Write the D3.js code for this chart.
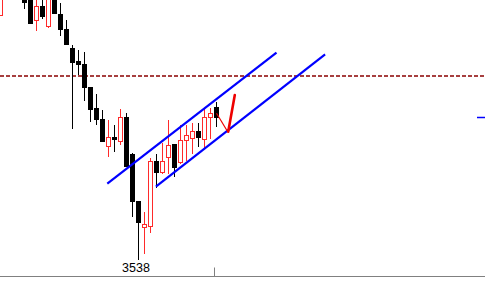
<!DOCTYPE html>
<html><head><meta charset="utf-8">
<script src="https://cdn.jsdelivr.net/npm/d3@7/dist/d3.min.js"></script>
<style>html,body{margin:0;padding:0;background:#fff;overflow:hidden}svg{display:block}</style>
</head><body>
<script>
// ---- data ----
const idx   = [0,4,5,6,7,8,9,10,11,12,13,14,15,16,17,18,19,20,21,22,23,24,25,26,27,28,29,30,31,32,33,34,35,36];
const open  = [3782,3802,3800,3777,3791,3771,3799,3783,3768,3749,3736,3733,3710,3689,3678,3651,3660,3656,3680,3643,3596,3570,3571,3636,3625,3640,3653,3635,3657,3659,3666,3658,3680,3690];
const high  = [3812,3805,3803,3799,3798,3802,3801,3794,3777,3752,3747,3745,3710,3703,3687,3677,3672,3688,3684,3644,3596,3585,3639,3643,3654,3677,3653,3672,3672,3674,3674,3689,3689,3695];
const low   = [3782,3789,3774,3767,3779,3770,3784,3762,3753,3669,3723,3697,3676,3673,3656,3641,3646,3653,3631,3581,3538,3544,3565,3610,3624,3624,3621,3634,3637,3644,3651,3649,3659,3671];
const close = [3807,3795,3774,3791,3781,3800,3784,3768,3753,3735,3733,3710,3688,3678,3656,3660,3658,3680,3631,3596,3575,3573,3636,3625,3636,3652,3630,3657,3662,3666,3660,3680,3684,3680];
const refLevel = 3721;           // dashed reference level
const lowLabel = "3538";         // labelled low
const lowIndex = 23;
const upperChannel = [[17.8,3613.3],[46.0,3744.3]];
const lowerChannel = [[25.9,3610.3],[54.1,3742.7]];
const sketchThin  = [[36.0,3683.7],[37.87,3665.3]];
const sketchThick = [[37.95,3665.3],[39.05,3702.0]];
const axisTicks = [35.5];

// ---- layout ----
const W = 485, H = 297, axisY = 276;
const svg = d3.select("body").append("svg").attr("width", W).attr("height", H);
const x = d3.scaleLinear().domain([-1/12, 80.75]).range([0, W]);
const y = d3.scaleLinear().domain([3538, 3797]).range([259, 0]);
const RED = "#ff2a2a";

const plot = svg.append("g");
plot.append("clipPath").attr("id","clip").append("rect").attr("x",0).attr("y",0).attr("width",W).attr("height",axisY);
const g = plot.append("g").attr("clip-path","url(#clip)");

// dashed reference line
g.append("line").attr("x1",0).attr("x2",W)
  .attr("y1",y(refLevel)).attr("y2",y(refLevel))
  .attr("stroke","#8b0000").attr("stroke-width",1.5).attr("stroke-dasharray","4,2");

const bars = idx.map((k,i)=>({k,o:open[i],h:high[i],l:low[i],c:close[i]}));
const cx = d => Math.floor(x(d.k)) + 0.5;

bars.forEach(d=>{
  const up = d.c > d.o;
  const top = Math.round(y(Math.max(d.o,d.c))), bot = Math.round(y(Math.min(d.o,d.c)));
  const X = cx(d);
  const col = up ? RED : "#000";
  g.append("line").attr("x1",X).attr("x2",X).attr("y1",y(d.h)).attr("y2",top)
    .attr("stroke",col).attr("stroke-width",1);
  g.append("line").attr("x1",X).attr("x2",X).attr("y1",bot).attr("y2",y(d.l)+1)
    .attr("stroke",col).attr("stroke-width",1);
  if (up) {
    g.append("rect").attr("x",X-2).attr("y",top+0.5).attr("width",4).attr("height",Math.max(1,bot-top))
      .attr("fill","#fff").attr("stroke",RED).attr("stroke-width",1);
  } else {
    g.append("rect").attr("x",X-2.5).attr("y",top).attr("width",5).attr("height",Math.max(1,bot-top+1))
      .attr("fill","#000");
  }
});

// channel lines
const line = d3.line().x(p=>x(p[0])).y(p=>y(p[1]));
[upperChannel, lowerChannel].forEach(pts=>{
  g.append("path").attr("d",line(pts)).attr("fill","none").attr("stroke","#0000ff").attr("stroke-width",2.2);
});
// hand sketch
g.append("path").attr("d",line(sketchThin)).attr("fill","none").attr("stroke","#ee0000").attr("stroke-width",1.2);
g.append("path").attr("d",line(sketchThick)).attr("fill","none").attr("stroke","#ee0000").attr("stroke-width",2.6).attr("stroke-linecap","round");

// last price marker on right
const lastClose = close[close.length-1];
g.append("line").attr("x1",477).attr("x2",W).attr("y1",Math.round(y(lastClose))+0.5).attr("y2",Math.round(y(lastClose))+0.5)
  .attr("stroke","#0000ff").attr("stroke-width",1.5);

// low label
svg.append("text").attr("x",x(lowIndex)-2.5).attr("y",y(low[idx.indexOf(lowIndex)])+13)
  .attr("text-anchor","middle").attr("font-family","Liberation Sans, Arial, sans-serif")
  .attr("font-size","12.5px").attr("fill","#000").text(lowLabel);

// bottom axis
const ax = svg.append("g").attr("transform",`translate(0,${axisY+0.5})`)
  .call(d3.axisTop(x).tickValues(axisTicks).tickSize(9).tickSizeOuter(0).tickFormat(""));
ax.select(".domain").attr("stroke","#808080").attr("d",`M0,0H${W}`);
ax.selectAll(".tick line").attr("stroke","#808080").attr("transform","translate(0.5,0)");
</script>
</body></html>
